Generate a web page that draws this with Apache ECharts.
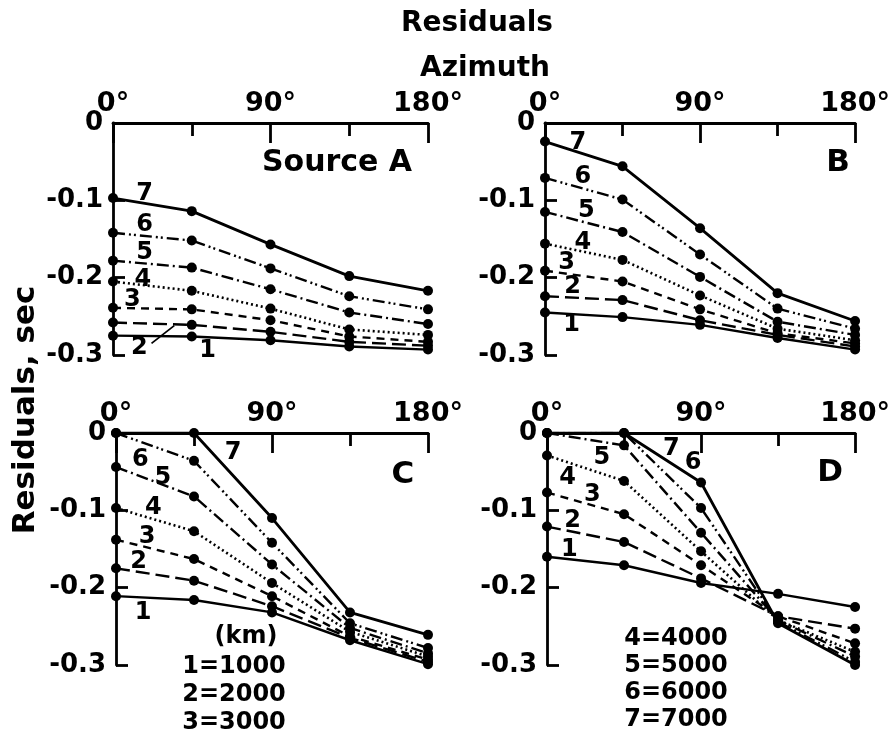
<!DOCTYPE html>
<html>
<head>
<meta charset="utf-8">
<script src="https://cdn.jsdelivr.net/npm/echarts@6/dist/echarts.min.js"></script>
<style>
  html, body { margin: 0; padding: 0; background: #fff; }
  #chart { width: 893px; height: 740px; }
</style>
</head>
<body>
<div id="chart"></div>
<script>
// Azimuth of each station (degrees) and the epicentral distance of each curve (km)
const azimuths = [0, 45, 90, 135, 180];
const distances = [1000, 2000, 3000, 4000, 5000, 6000, 7000];

// Residuals (sec), one row per distance 1000 ... 7000 km, for each source
const residA = [
  [-0.275, -0.276, -0.281, -0.289, -0.293],
  [-0.258, -0.261, -0.270, -0.283, -0.288],
  [-0.239, -0.241, -0.255, -0.276, -0.283],
  [-0.205, -0.217, -0.240, -0.267, -0.274],
  [-0.178, -0.187, -0.215, -0.245, -0.260],
  [-0.142, -0.152, -0.188, -0.224, -0.241],
  [-0.097, -0.114, -0.157, -0.198, -0.217]
];
const residB = [
  [-0.245, -0.251, -0.261, -0.278, -0.293],
  [-0.224, -0.229, -0.255, -0.274, -0.289],
  [-0.191, -0.205, -0.241, -0.272, -0.285],
  [-0.156, -0.177, -0.223, -0.266, -0.281],
  [-0.115, -0.141, -0.199, -0.257, -0.274],
  [-0.071, -0.099, -0.170, -0.240, -0.266],
  [-0.024, -0.056, -0.136, -0.220, -0.256]
];
const residC = [
  [-0.211, -0.216, -0.232, -0.268, -0.299],
  [-0.175, -0.191, -0.224, -0.265, -0.296],
  [-0.138, -0.163, -0.211, -0.263, -0.293],
  [-0.097, -0.127, -0.194, -0.257, -0.289],
  [-0.044, -0.082, -0.170, -0.252, -0.285],
  [0.000, -0.036, -0.142, -0.246, -0.278],
  [0.000, 0.000, -0.110, -0.232, -0.261]
];
const residD = [
  [-0.160, -0.171, -0.194, -0.208, -0.225],
  [-0.121, -0.141, -0.188, -0.237, -0.253],
  [-0.077, -0.105, -0.171, -0.237, -0.272],
  [-0.029, -0.062, -0.153, -0.242, -0.283],
  [0.000, -0.016, -0.129, -0.242, -0.289],
  [0.000, 0.000, -0.097, -0.244, -0.296],
  [0.000, 0.000, -0.064, -0.246, -0.300]
];

// Axis ticks
const azimuthTicks = [0, 90, 180];
const residualTicks = [0, -0.1, -0.2, -0.3];

// Curve numbers written beside the lines: [text, azimuth, residual]
const notesA = [['7', 18, -0.091], ['6', 18, -0.132], ['5', 18, -0.168], ['4', 17, -0.203],
                ['3', 11, -0.229], ['2', 15, -0.291], ['1', 54, -0.294]];
const notesB = [['7', 19, -0.025], ['6', 22, -0.070], ['5', 24, -0.113], ['4', 22, -0.155],
                ['3', 12.5, -0.181], ['2', 16, -0.212], ['1', 15.5, -0.261]];
const notesC = [['7', 67.5, -0.026], ['6', 14, -0.035], ['5', 27, -0.058], ['4', 21.5, -0.097],
                ['3', 18, -0.134], ['2', 13, -0.167], ['1', 15.6, -0.232]];
const notesD = [['7', 72.7, -0.021], ['6', 85.4, -0.039], ['5', 32, -0.032], ['4', 12, -0.058],
                ['3', 26.5, -0.080], ['2', 15, -0.114], ['1', 13, -0.151]];
// Leader from the "2" in panel A to its curve
const leaderA = [[22, -0.285], [35, -0.262]];

const panelNames = ['Source A', 'B', 'C', 'D'];
const panelData = [residA, residB, residC, residD];
const panelNotes = [notesA, notesB, notesC, notesD];

const FONT = 'DejaVu Sans';
const INK = '#000';

// Dash pattern of each curve: 1 solid ... 7 solid (heavier)
const dashes = ['solid', [14, 6], [8, 6], [2, 3], [12, 4, 2, 4], [12, 4, 2, 3, 2, 4], 'solid'];
const widths = [2.4, 2.4, 2.4, 2.6, 2.4, 2.4, 2.8];

const grids = [
  { left: 113, top: 123, width: 315, height: 232 },
  { left: 545, top: 123, width: 313, height: 232 },
  { left: 116, top: 433, width: 312, height: 232 },
  { left: 547, top: 433, width: 312, height: 232 }
];

const xAxes = grids.map((g, i) => ({
  gridIndex: i, type: 'value', position: 'top',
  min: 0, max: 180, interval: 90,
  axisLine: { show: true, onZero: false, lineStyle: { color: INK, width: 2.8 } },
  axisTick: { show: true, inside: true, length: 20, lineStyle: { color: INK, width: 2.8 } },
  minorTick: { show: true, splitNumber: 2, length: 13, lineStyle: { color: INK, width: 2.8 } },
  splitLine: { show: false },
  axisLabel: {
    color: INK, fontFamily: FONT, fontWeight: 'bold', fontSize: 27, margin: 6,
    formatter: v => (azimuthTicks.includes(v) ? v + '°' : '')
  }
}));

const yAxes = grids.map((g, i) => ({
  gridIndex: i, type: 'value',
  min: -0.3, max: 0, interval: 0.1,
  axisLine: { show: true, onZero: false, lineStyle: { color: INK, width: 2.8 } },
  axisTick: { show: true, inside: true, length: 12, lineStyle: { color: INK, width: 2.8 } },
  splitLine: { show: false },
  axisLabel: {
    color: INK, fontFamily: FONT, fontWeight: 'bold', fontSize: 26, margin: 10,
    formatter: v => {
      const t = residualTicks.find(r => Math.abs(r - v) < 1e-6);
      if (t === undefined) return '';
      return t === 0 ? '0' : t.toFixed(1);
    }
  }
}));

const series = [];
panelData.forEach((rows, p) => {
  rows.forEach((row, k) => {
    series.push({
      name: distances[k] + ' km',
      type: 'line', xAxisIndex: p, yAxisIndex: p,
      data: azimuths.map((a, j) => [a, row[j]]),
      symbol: 'circle', symbolSize: 10,
      itemStyle: { color: INK, opacity: 1 },
      lineStyle: { color: INK, width: widths[k], type: dashes[k] },
      z: 3
    });
  });
  series.push({
    type: 'scatter', xAxisIndex: p, yAxisIndex: p,
    symbolSize: 1, silent: true,
    itemStyle: { color: 'rgba(0,0,0,0)', opacity: 1 },
    data: panelNotes[p].map(n => ({ name: n[0], value: [n[1], n[2]] })),
    label: {
      show: true, position: 'inside', formatter: '{b}', opacity: 1,
      color: INK, fontFamily: FONT, fontWeight: 'bold', fontSize: 24,
      textBorderWidth: 0
    },
    z: 4
  });
});
series.push({
  type: 'line', xAxisIndex: 0, yAxisIndex: 0, data: leaderA,
  symbol: 'none', silent: true,
  lineStyle: { color: INK, width: 1.8 }
});

// Panel letters, titles and the distance key
const textStyle = (size) => ({ fill: INK, font: 'bold ' + size + 'px "' + FONT + '"' });
const graphic = [
  { type: 'text', style: Object.assign(textStyle(28), { text: 'Residuals', x: 477, y: 24, align: 'center', verticalAlign: 'middle' }) },
  { type: 'text', style: Object.assign(textStyle(28), { text: 'Azimuth', x: 485, y: 69, align: 'center', verticalAlign: 'middle' }) },
  { type: 'text', rotation: Math.PI / 2, x: 26, y: 410,
    style: Object.assign(textStyle(31), { text: 'Residuals, sec', x: 0, y: 0, align: 'center', verticalAlign: 'middle' }) },
  { type: 'text', style: Object.assign(textStyle(30), { text: panelNames[0], x: 337, y: 163, align: 'center', verticalAlign: 'middle' }) },
  { type: 'text', style: Object.assign(textStyle(31), { text: panelNames[1], x: 838, y: 163, align: 'center', verticalAlign: 'middle' }) },
  { type: 'text', style: Object.assign(textStyle(31), { text: panelNames[2], x: 403, y: 475, align: 'center', verticalAlign: 'middle' }) },
  { type: 'text', style: Object.assign(textStyle(31), { text: panelNames[3], x: 830, y: 473, align: 'center', verticalAlign: 'middle' }) },
  { type: 'text', style: Object.assign(textStyle(24), { text: '(km)', x: 246, y: 637, align: 'center', verticalAlign: 'middle' }) }
];
const keyLeft = distances.slice(0, 3).map((d, k) => (k + 1) + '=' + d);
const keyRight = distances.slice(3).map((d, k) => (k + 4) + '=' + d);
keyLeft.forEach((t, k) => graphic.push({ type: 'text',
  style: Object.assign(textStyle(24), { text: t, x: 234, y: 667 + k * 28, align: 'center', verticalAlign: 'middle' }) }));
keyRight.forEach((t, k) => graphic.push({ type: 'text',
  style: Object.assign(textStyle(24), { text: t, x: 676, y: 639 + k * 27, align: 'center', verticalAlign: 'middle' }) }));

const chart = echarts.init(document.getElementById('chart'), null, { renderer: 'canvas' });
chart.setOption({
  backgroundColor: '#fff',
  animation: false,
  grid: grids,
  xAxis: xAxes,
  yAxis: yAxes,
  series: series,
  graphic: graphic
});
</script>
</body>
</html>
